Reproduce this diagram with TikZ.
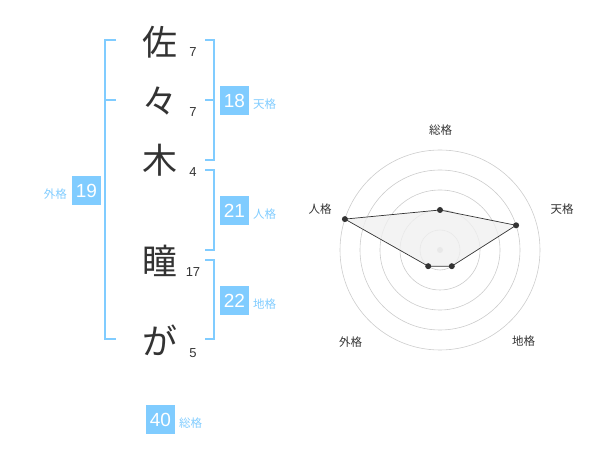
\documentclass[tikz,border=0pt]{standalone}
\usepackage{fontspec}
\setmainfont{Liberation Sans}
\newfontfamily\cjk{Noto Sans CJK JP}
\definecolor{bl}{HTML}{80CCFF}
\definecolor{dk}{HTML}{333333}
\definecolor{gr}{HTML}{CCCCCC}
\begin{document}
\begin{tikzpicture}[x=1pt,y=-1pt,
  kanji/.style={font=\cjk\fontsize{35}{35}\selectfont,text=dk,inner sep=0pt},
  strokes/.style={font=\fontsize{13}{13}\selectfont,text=dk,inner sep=0pt},
  numbox/.style={fill=bl,text=white,minimum width=29pt,minimum height=29pt,inner sep=0pt,font=\fontsize{19}{19}\selectfont},
  kaku/.style={font=\cjk\fontsize{11.5}{12}\selectfont,text=bl,inner sep=0pt},
  brk/.style={draw=bl,line width=2pt},
  ring/.style={draw=gr,line width=0.6pt},
  rlab/.style={font=\cjk\fontsize{11.5}{12}\selectfont,text=dk,inner sep=0pt},
  dot/.style={circle,fill=dk,inner sep=0pt,minimum size=6pt}]
\useasboundingbox (0,0) rectangle (600,470);
% characters
\node[kanji] (c1) at (160,42) {佐};
\node[kanji] (c2) at (160,101) {々};
\node[kanji] (c3) at (160,160) {木};
\node[kanji] (c4) at (160,261) {瞳};
\node[kanji] (c5) at (160,340) {が};
\node[strokes] (s1) at (193,52.5) {7};
\node[strokes] (s2) at (193,112.5) {7};
\node[strokes] (s3) at (193,172.5) {4};
\node[strokes] (s4) at (193,272.5) {17};
\node[strokes] (s5) at (193,353) {5};
% brackets
\draw[brk] (116,40) -- (105,40) -- (105,339) -- (116,339);
\draw[brk] (105,100) -- (116,100);
\draw[brk] (205,40) -- (214,40) -- (214,160) -- (205,160);
\draw[brk] (205,100) -- (214,100);
\draw[brk] (205,170) -- (214,170) -- (214,250) -- (205,250);
\draw[brk] (205,260) -- (214,260) -- (214,339) -- (205,339);
% boxes
\node[numbox] (b1) at (234.5,101) {18};
\node[kaku,anchor=west] (k1) at (253,104) {天格};
\node[numbox] (b2) at (234.5,211) {21};
\node[kaku,anchor=west] (k2) at (253,214) {人格};
\node[numbox] (b3) at (234.5,301) {22};
\node[kaku,anchor=west] (k3) at (253,304) {地格};
\node[numbox] (b4) at (86.5,190.5) {19};
\node[kaku,anchor=east] (k4) at (67,194) {外格};
\node[numbox] (b5) at (160.5,419.5) {40};
\node[kaku,anchor=west] (k5) at (179,423) {総格};
% radar
\coordinate (O) at (440,250);
\foreach \r in {20,40,60,80,100} \draw[ring] (O) circle[radius=\r];
\fill[gr] (O) circle[radius=3];
\path (O) ++(0,-40) coordinate (p1);
\path (O) ++(76.1,-24.7) coordinate (p2);
\path (O) ++(11.8,16.2) coordinate (p3);
\path (O) ++(-11.8,16.2) coordinate (p4);
\path (O) ++(-95.1,-30.9) coordinate (p5);
\filldraw[fill=black!6,draw=dk,line width=0.7pt,fill opacity=0.8] (p1) -- (p2) -- (p3) -- (p4) -- (p5) -- cycle;
\foreach \p in {p1,p2,p3,p4,p5} \node[dot] at (\p) {};
\node[rlab] (r1) at (440.5,130.5) {総格};
\node[rlab] (r2) at (562,209) {天格};
\node[rlab] (r3) at (523.5,341.5) {地格};
\node[rlab] (r4) at (350.5,342) {外格};
\node[rlab] (r5) at (320,209) {人格};
\end{tikzpicture}
\end{document}
